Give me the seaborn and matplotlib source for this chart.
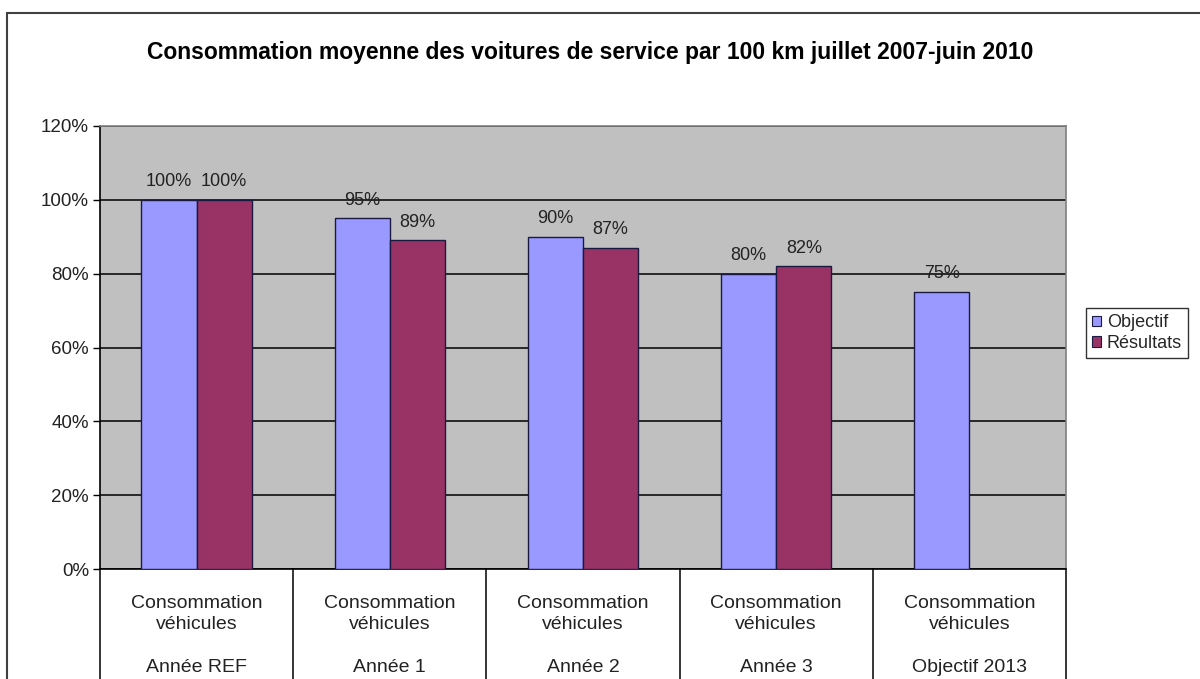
import matplotlib
matplotlib.use("Agg")
import matplotlib.pyplot as plt
from matplotlib.patches import Rectangle
from matplotlib.ticker import FuncFormatter, MultipleLocator
import numpy as np
import pandas as pd
import seaborn as sns

# Data
categories = ["Année REF", "Année 1", "Année 2", "Année 3", "Objectif 2013"]
category_prefix = "Consommation\nvéhicules"
series = ["Objectif", "Résultats"]
objectif = [100, 95, 90, 80, 75]
resultats = [100, 89, 87, 82, np.nan]
title = "Consommation moyenne des voitures de service par 100 km juillet 2007-juin 2010"

df = pd.DataFrame({
    "categorie": categories * 2,
    "serie": [series[0]] * len(categories) + [series[1]] * len(categories),
    "valeur": objectif + resultats,
})

sns.set_theme(style="white")
plt.rcParams["font.family"] = ["Liberation Sans", "DejaVu Sans"]

fig = plt.figure(figsize=(12, 6.79), dpi=100)
W, H = 1200, 679
left, right, top, bottom = 100, 1066, 126, 569
ax = fig.add_axes([left / W, 1 - bottom / H, (right - left) / W, (bottom - top) / H])

palette = {"Objectif": "#9999FF", "Résultats": "#993366"}
sns.barplot(data=df, x="categorie", y="valeur", hue="serie", order=categories,
            hue_order=series, palette=palette, saturation=1, width=2 / 3.5,
            edgecolor="#1a1a40", linewidth=1.0, errorbar=None, ax=ax, legend=True, zorder=3)

ax.set_facecolor("#C0C0C0")
ax.set_ylim(0, 120)
ax.set_xlim(-0.5, len(categories) - 0.5)
ax.yaxis.set_major_locator(MultipleLocator(20))
ax.yaxis.set_major_formatter(FuncFormatter(lambda v, p: f"{v:.0f}%"))
ax.grid(axis="y", color="black", linewidth=1.1, zorder=1)
ax.set_axisbelow(True)
ax.tick_params(axis="y", which="major", direction="out", length=5, width=1,
               color="black", labelsize=13.5, pad=3, left=True, labelcolor="#222222")
ax.tick_params(axis="x", length=0, labelbottom=False)
ax.set_xlabel("")
ax.set_ylabel("")
for s in ["top", "right"]:
    ax.spines[s].set_color("#808080")
    ax.spines[s].set_linewidth(1.2)
for s in ["left", "bottom"]:
    ax.spines[s].set_color("black")
    ax.spines[s].set_linewidth(1.2)

# Value labels above each bar
for cont in ax.containers:
    labels = ["" if np.isnan(v) else f"{v:.0f}%" for v in cont.datavalues]
    ax.bar_label(cont, labels=labels, padding=7, fontsize=13, color="#222222")

# Category separators and two-line category labels below the axis
trans = ax.get_xaxis_transform()
for i in range(len(categories) + 1):
    ax.plot([i - 0.5, i - 0.5], [0, -0.5], transform=trans, color="black",
            linewidth=1.1, clip_on=False)
for i, cat in enumerate(categories):
    ax.text(i, -0.058, f"{category_prefix}\n\n{cat}", transform=trans, ha="center",
            va="top", fontsize=14, color="#222222", linespacing=1.35)

# Legend
handles, labels = ax.get_legend_handles_labels()
ax.legend(handles, labels, loc="center left", bbox_to_anchor=(1086 / W, 1 - 333 / H),
          bbox_transform=fig.transFigure, frameon=True, fancybox=False,
          edgecolor="black", fontsize=13, handlelength=0.5, handleheight=0.5,
          handletextpad=0.3, borderpad=0.35, labelspacing=0.2, borderaxespad=0)
leg = ax.get_legend()
leg.get_frame().set_linewidth(1.0)
for p in leg.get_patches():
    p.set_edgecolor("#1a1a40")
    p.set_linewidth(0.8)

fig.text(590 / W, 1 - 53 / H, title, ha="center", va="center", fontsize=16.5,
         fontweight="bold", color="black")

# Outer chart frame
fig.patches.append(Rectangle((7 / W, -0.1), 1.2, 1 - 13 / H + 0.1, transform=fig.transFigure,
                             fill=False, edgecolor="#404040", linewidth=1.5))

fig.savefig("out.png", dpi=100, facecolor="white")
